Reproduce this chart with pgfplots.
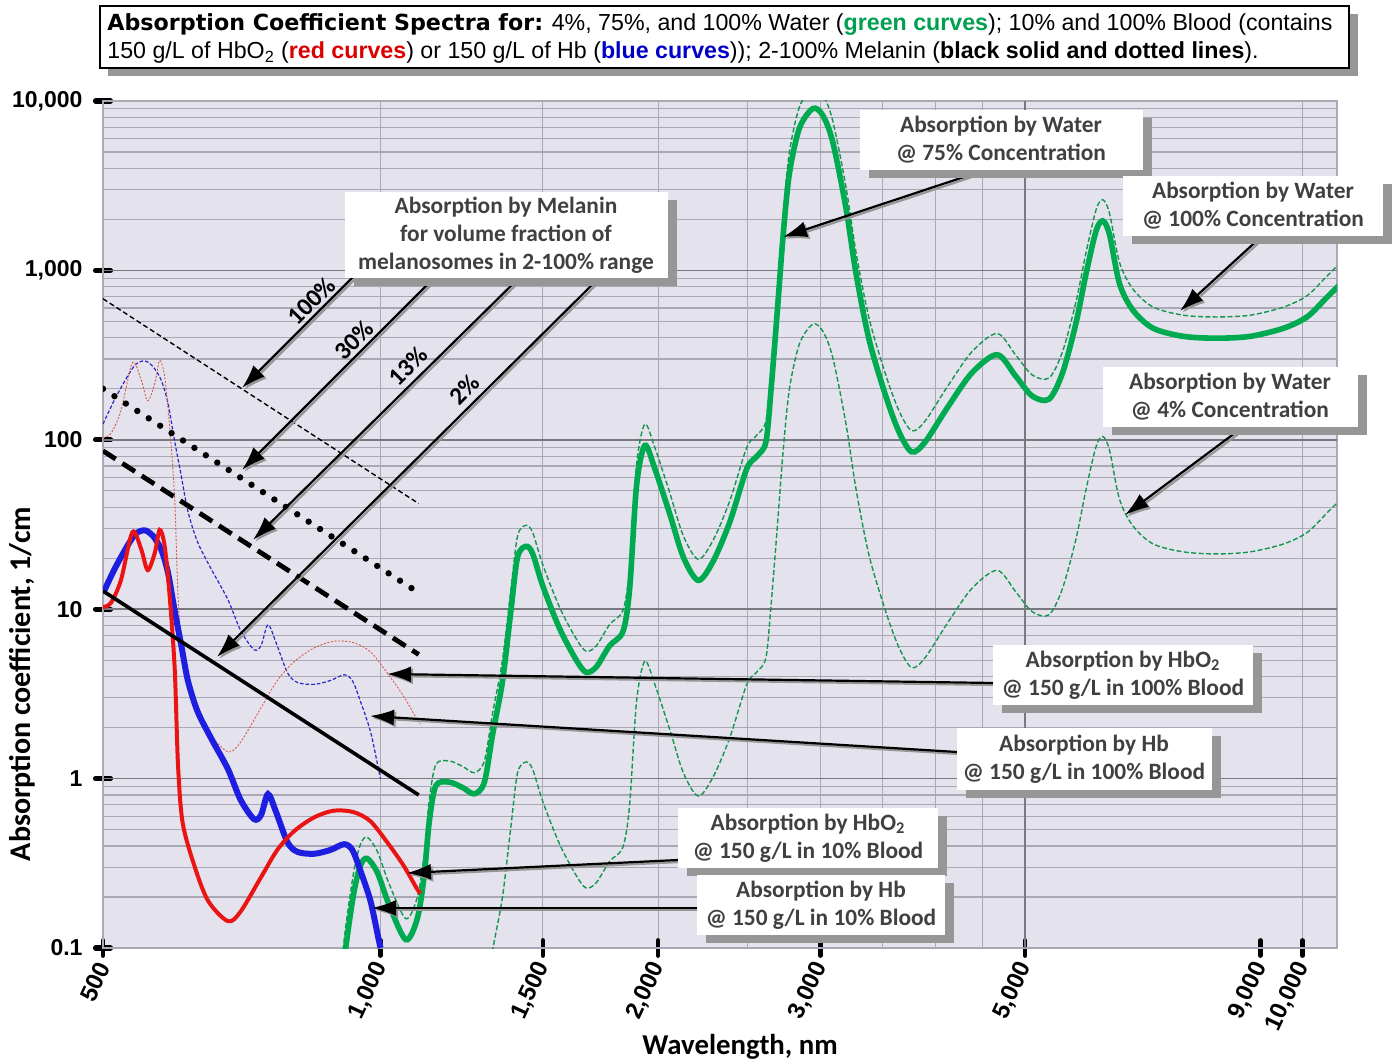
\documentclass[border=0pt]{standalone}
\usepackage{fontspec}
\setmainfont{Liberation Sans}
\newfontfamily\calfont{Carlito}
\newfontfamily\headfont{DejaVu Sans}
\usepackage{pgfplots}
\pgfplotsset{compat=1.18}
\usepackage{pgfplotstable}
\usetikzlibrary{arrows.meta}

\definecolor{bgpl}{RGB}{228,226,236}
\definecolor{gmaj}{RGB}{120,120,126}
\definecolor{gmin}{RGB}{170,168,180}
\definecolor{wgreen}{RGB}{0,170,80}
\definecolor{wgreen2}{RGB}{20,150,80}
\definecolor{hbblue}{RGB}{30,30,225}
\definecolor{hbthin}{RGB}{40,40,200}
\definecolor{hbored}{RGB}{235,20,20}
\definecolor{hbothin}{RGB}{215,90,75}
\definecolor{annot}{RGB}{64,64,64}
\definecolor{shad}{RGB}{150,150,150}
\definecolor{tgreen}{RGB}{0,160,80}
\definecolor{tred}{RGB}{220,0,0}
\definecolor{tblue}{RGB}{0,0,200}

\newcommand\annfont{\calfont\bfseries\fontsize{11.7}{14}\selectfont}

% water: 75% (thick), 100% and 4% (thin dashed)
\pgfplotstableread{
nm w75 w100 w4
900 0.04 0.0533 0.00213
916 0.097 0.129 0.00517
935 0.209 0.279 0.0111
951 0.307 0.409 0.0164
967 0.338 0.451 0.018
992 0.279 0.372 0.0149
1021 0.181 0.241 0.00965
1065 0.112 0.149 0.00597
1096 0.149 0.199 0.00795
1115 0.266 0.355 0.0142
1129 0.548 0.731 0.0292
1148 0.908 1.211 0.0484
1187 0.953 1.271 0.0508
1227 0.886 1.181 0.0473
1264 0.813 1.084 0.0434
1296 0.953 1.271 0.0508
1323 1.83 2.44 0.0976
1356 3.76 5.01 0.2005
1385 9.86 13.15 0.526
1408 20.3 27.1 1.083
1438 23.5 31.3 1.253
1462 21.3 28.4 1.136
1499 13.8 18.4 0.736
1563 7.74 10.32 0.413
1630 5.02 6.69 0.268
1671 4.24 5.65 0.226
1714 4.56 6.08 0.243
1772 6.09 8.12 0.325
1832 7.38 9.84 0.394
1863 13.2 17.6 0.704
1895 53.2 70.9 2.837
1935 92.6 123.5 4.94
1984 67.6 90.1 3.605
2060 36.2 48.3 1.931
2130 20.3 27.1 1.083
2211 14.8 19.7 0.789
2296 19.3 25.7 1.029
2393 32.9 43.9 1.755
2496 67.6 90.1 3.605
2560 80 106.7 4.27
2618 97 129.3 5.17
2652 199 265 10.6
2696 611 815 32.6
2730 1496 1995 79.8
2775 3674 4899 196
2846 6890 9187 367
2943 9020 12027 481
3017 8240 10987 439
3093 5750 7667 307
3197 2345 3127 125
3279 956 1275 51
3388 389 519 20.7
3532 181 241 9.65
3651 111 148 5.92
3769 84.8 113 4.52
3896 97 129 5.17
4131 158.6 211 8.46
4381 249 332 13.3
4665 318 424 16.96
4884 238 317 12.7
5093 181 241 9.65
5311 174 232 9.28
5492 249 332 13.3
5679 488 651 26
5824 956 1275 51
5972 1714 2285 91.4
6072 1960 2613 104.5
6174 1637 2183 87.3
6331 836 1115 44.6
6546 583 777 31.1
6883 456 608 24.3
7425 408 544 21.8
8072 398 531 21.2
8776 408 544 21.8
9543 456 608 24.3
10120 533 711 28.4
10640 698 931 37.2
11050 855 1140 45.6
}\water

% Hb: 10% blood (thick) and 100% blood (thin)
\pgfplotstableread{
nm hb10 hb100
500 12.4 124
515 17.4 174
532 23.9 239
543 28 280
555 29.2 292
566 27.2 272
578 22.6 226
588 16.5 165
598 9.8 98
608 6.1 61
618 3.8 38
633 2.5 25
655 1.73 17.3
683 1.14 11.4
705 0.75 7.5
729 0.577 5.77
742 0.61 6.1
755 0.81 8.1
770 0.64 6.4
793 0.42 4.2
813 0.369 3.69
847 0.36 3.6
882 0.379 3.79
913 0.41 4.1
932 0.379 3.79
950 0.29 2.9
975 0.19 1.9
995 0.113 1.13
1000 0.1 1.0
}\hb

% HbO2: 10% blood (thick) and 100% blood (thin)
\pgfplotstableread{
nm hbo10 hbo100
500 10.3 103
510 10.9 109
523 14.9 149
538 28.5 285
550 22.6 226
559 17 170
569 21.5 215
576 29.4 294
583 23.9 239
590 12.7 127
598 4.5 45
603 1.2 12
610 0.55 5.5
628 0.307 3.07
650 0.19 1.9
683 0.144 1.44
705 0.164 1.64
742 0.262 2.62
773 0.38 3.8
806 0.49 4.9
847 0.59 5.9
890 0.647 6.47
935 0.634 6.34
975 0.56 5.6
1017 0.42 4.2
1059 0.307 3.07
1095 0.224 2.24
1105 0.21 2.1
}\hbo

\newcommand\abox[5]{%
  \fill[shad] ({#1-#3/2+9},{#2-#4/2+8}) rectangle ({#1+#3/2+9},{#2+#4/2+8});
  \fill[white] ({#1-#3/2},{#2-#4/2}) rectangle ({#1+#3/2},{#2+#4/2});
  \node[align=center, font=\annfont, text=annot, inner sep=0pt] at (#1,#2) {#5};}
\newcommand\arr[4]{%
  \draw[shad, line width=1.1pt, -{Latex[length=12pt,width=8pt]}] ({#1+2},{#2+2}) -- ({#3+2},{#4+2});
  \draw[black, line width=1.1pt, -{Latex[length=12pt,width=8pt]}] (#1,#2) -- (#3,#4);}

\begin{document}
\begin{tikzpicture}
\begin{axis}[
  at={(0,0)}, anchor=south west,
  scale only axis, width=617pt, height=423.5pt,
  xmode=log, ymode=log,
  xmin=500, xmax=10900, ymin=0.1, ymax=10000,
  axis background/.style={fill=bgpl},
  axis line style={draw=gmin, line width=0.6pt},
  xtick={500,1000,1500,2000,3000,5000,9000,10000},
  xticklabels={500,{1,000},{1,500},{2,000},{3,000},{5,000},{9,000},{10,000}},
  ytick={0.1,1,10,100,1000,10000},
  yticklabels={0.1,1,10,100,{1,000},{10,000}},
  minor xtick={1000,1500,2000,2500,3000,3500,4000,4500,10000},
  minor ytick={0.2,0.3,0.4,0.5,0.6,0.7,0.8,0.9,2,3,4,5,6,7,8,9,20,30,40,50,60,70,80,90,200,300,400,500,600,700,800,900,2000,3000,4000,5000,6000,7000,8000,9000},
  xminorgrids=true, yminorgrids=true, ymajorgrids=false, xmajorgrids=false,
  extra x ticks={5000}, extra x tick labels={},
  extra x tick style={xmajorgrids=true, major tick length=0pt, major tick style={draw=none}, major grid style={gmaj, line width=0.8pt}},
  extra y ticks={1,10,100,1000}, extra y tick labels={},
  extra y tick style={ymajorgrids=true, major tick length=0pt, major tick style={draw=none}, major grid style={gmaj, line width=0.8pt}},
  minor grid style={gmin, line width=0.55pt},
  xtick pos=bottom, ytick pos=left,
  tick align=center,
  major tick length=7.5pt, minor tick length=0pt,
  xtick style={black, line width=2.4pt, line cap=round},
  ytick style={black, line width=2.6pt, line cap=round},
  minor tick style={draw=none},
  ticklabel style={font=\bfseries\fontsize{11.5}{13}\selectfont},
  yticklabel style={xshift=-3pt},
  xticklabel style={font=\bfseries\fontsize{12}{13}\selectfont, rotate=65, anchor=east, yshift=-2pt},
]
% water
\addplot[wgreen2, line width=0.7pt, dash pattern=on 2.5pt off 1.2pt, smooth] table[x=nm, y=w100] {\water};
\addplot[wgreen2, line width=0.7pt, dash pattern=on 2.5pt off 1.2pt, smooth] table[x=nm, y=w4] {\water};
\addplot[wgreen, line width=2.8pt, smooth] table[x=nm, y=w75] {\water};
% blood 100%
\addplot[hbthin, line width=0.6pt, dash pattern=on 1.8pt off 1pt, smooth] table[x=nm, y=hb100] {\hb};
\addplot[hbothin, line width=0.45pt, dash pattern=on 1pt off 0.8pt, smooth] table[x=nm, y=hbo100] {\hbo};
% blood 10%
\addplot[hbblue, line width=3pt, smooth] table[x=nm, y=hb10] {\hb};
\addplot[hbored, line width=2pt, smooth] table[x=nm, y=hbo10] {\hbo};
% melanin
\addplot[black, line width=0.7pt, dash pattern=on 2.5pt off 1.5pt] coordinates {(500,680) (1100,42)};
\addplot[black, line width=3.2pt, line cap=round, dash pattern=on 0pt off 6.8pt] coordinates {(500,200) (1100,12.5)};
\addplot[black, line width=2.4pt, dash pattern=on 7.5pt off 4pt] coordinates {(500,86) (1100,5.4)};
\addplot[black, line width=1.8pt] coordinates {(500,12.8) (1100,0.80)};
\end{axis}

\begin{scope}[x=0.5pt, y=-0.5pt, xshift=-51.5pt, yshift=474pt]
% title
\fill[shad] (108,14) rectangle (1358,76);
\draw[fill=white, line width=1.1pt] (100,6) rectangle (1349,68);
\node[anchor=base west, inner sep=0pt, font=\fontsize{11.6}{13}\selectfont] at (107,31) {{\headfont\bfseries\fontsize{11.1}{13}\selectfont Absorption Coefficient Spectra for:} 4\%, 75\%, and 100\% Water ({\bfseries\color{tgreen}green curves}); 10\% and 100\% Blood (contains};
\node[anchor=base west, inner sep=0pt, font=\fontsize{11.6}{13}\selectfont] at (107,59) {150 g/L of HbO\textsubscript{2} ({\bfseries\color{tred}red curves}) or 150 g/L of Hb ({\bfseries\color{tblue}blue curves})); 2-100\% Melanin ({\bfseries black solid and dotted lines}).};
% axis labels
\node[rotate=90, font=\calfont\bfseries\fontsize{15}{17}\selectfont] at (22,684) {Absorption coefficient, 1/cm};
\node[font=\calfont\bfseries\fontsize{14.4}{16}\selectfont] at (740,1047) {Wavelength, nm};
% arrows
\arr{353}{277}{242}{388}
\arr{435}{277}{242}{470}
\arr{520}{277}{253}{540}
\arr{600}{277}{217}{657}
\arr{985}{170}{783}{237}
\arr{1262}{236}{1180}{311}
\arr{1243}{427}{1125}{515}
\arr{993}{683}{387}{674}
\arr{957}{752}{370}{716}
\arr{678}{860}{407}{873}
\arr{697}{908}{372}{908}
% percentage labels
\node[rotate=45, font=\calfont\bfseries\fontsize{12.5}{14}\selectfont] at (311,301) {100\%};
\node[rotate=45, font=\calfont\bfseries\fontsize{12.5}{14}\selectfont] at (354,340) {30\%};
\node[rotate=45, font=\calfont\bfseries\fontsize{12.5}{14}\selectfont] at (408,366) {13\%};
\node[rotate=45, font=\calfont\bfseries\fontsize{12.5}{14}\selectfont] at (464,390) {2\%};
% boxes
\abox{506}{235}{323}{86}{Absorption by Melanin\\for volume fraction of\\melanosomes in 2-100\% range}
\abox{1001}{140}{283}{60}{Absorption by Water\\@ 75\% Concentration}
\abox{1253}{206}{260}{60}{Absorption by Water\\@ 100\% Concentration}
\abox{1230}{397}{255}{60}{Absorption by Water\\@ 4\% Concentration}
\abox{1123}{675}{260}{60}{Absorption by HbO\textsubscript{2}\\@ 150 g/L in 100\% Blood}
\abox{1084}{759}{255}{62}{Absorption by Hb\\@ 150 g/L in 100\% Blood}
\abox{808}{838}{260}{60}{Absorption by HbO\textsubscript{2}\\@ 150 g/L in 10\% Blood}
\abox{821}{905}{248}{60}{Absorption by Hb\\@ 150 g/L in 10\% Blood}
\pgfresetboundingbox
\path[use as bounding box] (0,0) rectangle (1395,1063);
\end{scope}
\end{tikzpicture}
\end{document}
